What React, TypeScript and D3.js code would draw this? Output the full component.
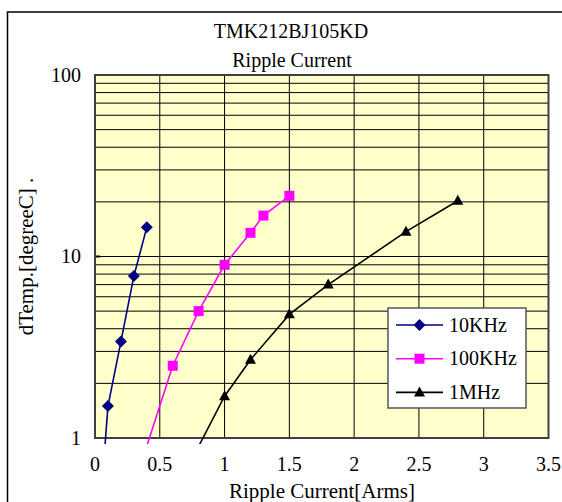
import React from "react";
import * as d3 from "d3";

const title1 = "TMK212BJ105KD";
const title2 = "Ripple Current";
const xTitle = "Ripple Current[Arms]";
const yTitle = "dTemp.[degreeC] .";
const xTicks = [0, 0.5, 1, 1.5, 2, 2.5, 3, 3.5];
const yTicks = [1, 10, 100];

const seriesNames = ["10KHz", "100KHz", "1MHz"];
const s10kX = [0.05, 0.1, 0.2, 0.3, 0.4];
const s10kY = [0.5, 1.5, 3.4, 7.8, 14.5];
const s100kX = [0.35, 0.6, 0.8, 1.0, 1.2, 1.3, 1.5];
const s100kY = [0.7, 2.5, 5.0, 9.0, 13.5, 16.8, 21.6];
const s1mX = [0.8, 1.0, 1.2, 1.5, 1.8, 2.4, 2.8];
const s1mY = [0.9, 1.7, 2.7, 4.8, 7.0, 13.7, 20.3];

const colors = ["#000080", "#FF00FF", "#000000"];
const markers = ["diamond", "square", "triangle"];

const L = 95, R = 548.5, T = 75, B = 438;
const font = "Times New Roman, Liberation Serif, Tinos, DejaVu Serif, serif";

function Marker({ type, x, y, color }: { type: string; x: number; y: number; color: string }) {
  if (type === "diamond") {
    const s = 6;
    return <path d={`M${x},${y - s}L${x + s},${y}L${x},${y + s}L${x - s},${y}Z`} fill={color} />;
  }
  if (type === "square") {
    const s = 5;
    return <rect x={x - s} y={y - s} width={2 * s} height={2 * s} fill={color} />;
  }
  const h = 10, w = 11;
  return <path d={`M${x},${y - h * 0.6}L${x + w / 2},${y + h * 0.4}L${x - w / 2},${y + h * 0.4}Z`} fill={color} />;
}

export default function App() {
  const x = d3.scaleLinear().domain([0, 3.5]).range([L, R]);
  const y = d3.scaleLog().domain([1, 100]).range([B, T]);
  const series = [
    { xs: s10kX, ys: s10kY },
    { xs: s100kX, ys: s100kY },
    { xs: s1mX, ys: s1mY },
  ];
  const minor: number[] = [];
  [1, 10].forEach((d) => {
    for (let k = 2; k <= 9; k++) minor.push(d * k);
  });
  const line = d3
    .line<[number, number]>()
    .x((d) => x(d[0]))
    .y((d) => y(d[1]));
  const ts = { fontFamily: font };

  return (
    <svg width={562} height={502} style={{ position: "absolute", left: 0, top: 0, fontFamily: font }}>
      <rect x={0} y={0} width={562} height={502} fill="#fff" />
      <rect x={7.5} y={12} width={700} height={700} fill="none" stroke="#000" strokeWidth={1.5} />
      <defs>
        <clipPath id="lineclip">
          <rect x={L} y={T} width={R - L} height={B - T + 6} />
        </clipPath>
        <clipPath id="plotclip">
          <rect x={L - 8} y={T - 8} width={R - L + 16} height={B - T + 16} />
        </clipPath>
      </defs>
      <rect x={L} y={T} width={R - L} height={B - T} fill="#FFFFCC" />
      {minor.map((v) => (
        <line key={"m" + v} x1={L} x2={R} y1={y(v)} y2={y(v)} stroke="#000" strokeWidth={1} />
      ))}
      {yTicks.map((v) => (
        <line key={"M" + v} x1={L} x2={R} y1={y(v)} y2={y(v)} stroke="#000" strokeWidth={1} />
      ))}
      {xTicks.slice(1, -1).map((v) => (
        <line key={"v" + v} x1={x(v)} x2={x(v)} y1={T} y2={B} stroke="#000" strokeWidth={1} />
      ))}
      <line x1={L} x2={L + 5} y1={y(10)} y2={y(10)} stroke="#000" strokeWidth={2} />
      <rect x={L} y={T} width={R - L} height={B - T} fill="none" stroke="#404040" strokeWidth={2} />
      <g clipPath="url(#lineclip)">
        {series.map((s, i) => (
          <path
            key={"l" + i}
            d={line(s.xs.map((v, j) => [v, s.ys[j]] as [number, number])) || ""}
            fill="none"
            stroke={colors[i]}
            strokeWidth={1.6}
          />
        ))}
      </g>
      <g clipPath="url(#plotclip)">
        {series.map((s, i) =>
          s.xs.map((v, j) =>
            s.ys[j] >= 1 ? (
              <Marker key={"p" + i + "-" + j} type={markers[i]} x={x(v)} y={y(s.ys[j])} color={colors[i]} />
            ) : null
          )
        )}
      </g>
      {yTicks.map((v) => (
        <text key={"yt" + v} style={ts} x={81} y={y(v)} dy="0.33em" textAnchor="end" fontSize={20}>
          {v}
        </text>
      ))}
      {xTicks.map((v) => (
        <text key={"xt" + v} style={ts} x={x(v)} y={470.5} textAnchor="middle" fontSize={20}>
          {v}
        </text>
      ))}
      <text style={ts} x={291} y={37.5} textAnchor="middle" fontSize={20}>
        {title1}
      </text>
      <text style={ts} x={292} y={66.5} textAnchor="middle" fontSize={20}>
        {title2}
      </text>
      <text style={ts} x={322} y={497.5} textAnchor="middle" fontSize={21}>
        {xTitle}
      </text>
      <text style={ts} transform={`translate(32.5,${(T + B) / 2}) rotate(-90)`} textAnchor="middle" fontSize={21}>
        {yTitle}
      </text>
      <g>
        <rect x={388} y={308} width={138} height={100} fill="#fff" stroke="#555" strokeWidth={1.5} />
        {seriesNames.map((n, i) => {
          const ry = 325 + i * 33.7;
          return (
            <g key={"lg" + n}>
              <line x1={396} x2={443} y1={ry} y2={ry} stroke={colors[i]} strokeWidth={1.6} />
              <Marker type={markers[i]} x={419.5} y={ry} color={colors[i]} />
              <text style={ts} x={449} y={ry} dy="0.33em" fontSize={20}>
                {n}
              </text>
            </g>
          );
        })}
      </g>
    </svg>
  );
}
